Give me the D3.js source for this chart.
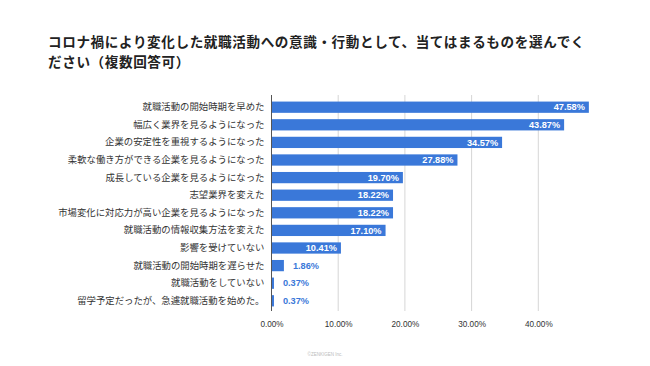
<!DOCTYPE html>
<html><head><meta charset="utf-8">
<script src="https://cdn.jsdelivr.net/npm/d3@7"></script>
<style>
html,body{margin:0;padding:0;background:#fff;}
svg{display:block;}
</style></head>
<body>
<svg id="c" width="650" height="366"></svg>
<script>
const titleLines = ["コロナ禍により変化した就職活動への意識・行動として、当てはまるものを選んでく", "ださい（複数回答可）"];
const categories = [
 "就職活動の開始時期を早めた",
 "幅広く業界を見るようになった",
 "企業の安定性を重視するようになった",
 "柔軟な働き方ができる企業を見るようになった",
 "成長している企業を見るようになった",
 "志望業界を変えた",
 "市場変化に対応力が高い企業を見るようになった",
 "就職活動の情報収集方法を変えた",
 "影響を受けていない",
 "就職活動の開始時期を遅らせた",
 "就職活動をしていない",
 "留学予定だったが、急遽就職活動を始めた。"
];
const values = [47.58, 43.87, 34.57, 27.88, 19.70, 18.22, 18.22, 17.10, 10.41, 1.86, 0.37, 0.37];
const ticks = [0, 10, 20, 30, 40];
const footer = "©ZENKIGEN Inc.";

const svg = d3.select("#c");
const JP = "'Noto Sans CJK JP','Noto Sans',sans-serif";
const NUM = "'Liberation Sans',Arial,'Noto Sans CJK JP',sans-serif";
const blue = "#3a78d9";

svg.append("g").selectAll("text").data(titleLines).join("text")
  .attr("x", 48).attr("y", (d, i) => 46.5 + i * 20)
  .attr("font-family", JP).attr("font-weight", "bold").attr("font-size", 13.6)
  .attr("letter-spacing", 0.6).attr("fill", "#222").text(d => d);

const x = d3.scaleLinear().domain([0, 50]).range([271.5, 605]);
const y = d3.scaleBand().domain(categories).range([98.4, 309.6]).paddingInner(0.36).paddingOuter(0.18);

// grid
svg.append("g").selectAll("line").data(ticks.slice(1)).join("line")
  .attr("x1", d => x(d)).attr("x2", d => x(d)).attr("y1", 95).attr("y2", 311)
  .attr("stroke", "#d6d6d6").attr("stroke-width", 1);

// bars
svg.append("g").selectAll("rect").data(values).join("rect")
  .attr("x", x(0)).attr("y", (d, i) => y(categories[i]))
  .attr("width", d => Math.max(x(d) - x(0), 1.5)).attr("height", y.bandwidth())
  .attr("fill", blue);

// axis line
svg.append("line").attr("x1", 271.5).attr("x2", 271.5).attr("y1", 95).attr("y2", 311)
  .attr("stroke", "#555").attr("stroke-width", 1);

// category labels
const yAxis = d3.axisLeft(y).tickSize(0).tickPadding(7);
const ga = svg.append("g").attr("transform", `translate(${x(0)},0)`).call(yAxis);
ga.select(".domain").remove();
ga.selectAll("text").attr("font-family", JP).attr("font-size", 9.4).attr("fill", "#333");

// value labels
svg.append("g").selectAll("text").data(values).join("text")
  .attr("y", (d, i) => y(categories[i]) + y.bandwidth() / 2)
  .attr("dy", "0.35em")
  .attr("x", d => d > 5 ? x(d) - 4 : x(d) + 9)
  .attr("text-anchor", d => d > 5 ? "end" : "start")
  .attr("fill", d => d > 5 ? "#fff" : blue)
  .attr("font-family", NUM).attr("font-weight", "bold").attr("font-size", 9.2)
  .text(d => d.toFixed(2) + "%");

// x axis
const xAxis = d3.axisBottom(x).tickValues(ticks).tickSize(0).tickPadding(8)
  .tickFormat(d => d.toFixed(2) + "%");
const gx = svg.append("g").attr("transform", "translate(0,313)").call(xAxis);
gx.select(".domain").remove();
gx.selectAll("text").attr("font-family", NUM).attr("font-size", 8.2).attr("fill", "#333");

svg.append("text").attr("x", 325).attr("y", 356).attr("text-anchor", "middle")
  .attr("font-family", NUM).attr("font-size", 4.5).attr("fill", "#bbb").text(footer);
</script>
</body></html>
